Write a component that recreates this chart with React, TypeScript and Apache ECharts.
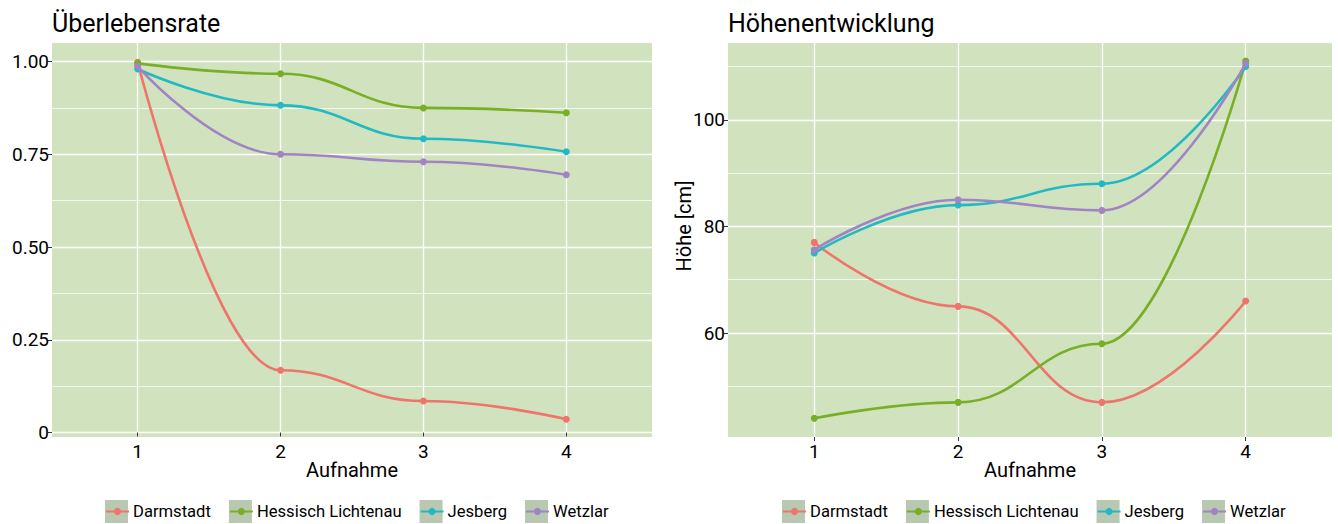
import React, { useEffect, useRef } from "react";
import * as echarts from "echarts";

const aufnahmen = [1, 2, 3, 4];
const sites = ["Darmstadt", "Hessisch Lichtenau", "Jesberg", "Wetzlar"];
const colors = ["#ef756c", "#79ae26", "#23b9c4", "#a084c4"];

const survDarmstadt = [0.998, 0.168, 0.085, 0.036];
const survHessisch = [0.995, 0.967, 0.875, 0.862];
const survJesberg = [0.98, 0.882, 0.792, 0.757];
const survWetzlar = [0.987, 0.75, 0.73, 0.695];

const hoeheDarmstadt = [77, 65, 47, 66];
const hoeheHessisch = [44, 47, 58, 111];
const hoeheJesberg = [75, 84, 88, 110];
const hoeheWetzlar = [75.6, 85, 83, 110.6];

const survTicks = [0, 0.25, 0.5, 0.75, 1];
const survMinor = [0.125, 0.375, 0.625, 0.875];
const hoeheTicks = [60, 80, 100];
const hoeheMinor = [50, 70, 90, 110];

const FONT = "Roboto";
const PANEL = "#d0e3be";
const KEYBG = "#b9c8b0";
const LEGEND_FS = 16.6;
const KEY = 23;
const GAP = 18;

function measure(text: string): number {
  const c = document.createElement("canvas").getContext("2d");
  if (!c) return text.length * 8;
  c.font = `${LEGEND_FS}px ${FONT}`;
  return c.measureText(text).width;
}

export default function App() {
  const ref = useRef<HTMLDivElement>(null);
  useEffect(() => {
    if (!ref.current) return;
    const chart = echarts.init(ref.current, undefined, { renderer: "svg" });
    const surv = [survDarmstadt, survHessisch, survJesberg, survWetzlar];
    const hoehe = [hoeheDarmstadt, hoeheHessisch, hoeheJesberg, hoeheWetzlar];
    const mk = (arr: number[]) => aufnahmen.map((a, i) => [a, arr[i]]);

    const series: any[] = [];
    const lineSeries = (s: string, k: number, xi: number, yi: number, arr: number[]) => ({
      type: "line", name: s, xAxisIndex: xi, yAxisIndex: yi, data: mk(arr),
      smooth: 0.45, smoothMonotone: "x", symbol: "circle", symbolSize: 7, color: colors[k],
      lineStyle: { width: 2.6, color: colors[k] }, itemStyle: { color: colors[k] }, z: 3 + k,
    });
    sites.forEach((s, k) => series.push(lineSeries(s, k, 0, 0, surv[k])));
    sites.forEach((s, k) => series.push(lineSeries(s, k, 1, 2, hoehe[k])));

    const xAxisBase = (gi: number) => ({
      type: "value", gridIndex: gi, min: 0.4, max: 4.6,
      axisLine: { show: false },
      axisTick: { show: true, length: 4, lineStyle: { color: "#333", width: 1 }, customValues: aufnahmen },
      axisLabel: { customValues: aufnahmen, color: "#000", fontFamily: FONT, fontSize: 19, margin: 5 },
      splitLine: { show: true, lineStyle: { color: "#ffffff", width: 1.3 } },
      name: "Aufnahme", nameLocation: "middle", nameGap: 23, nameMoveOverlap: false,
      nameTextStyle: { color: "#000", fontFamily: FONT, fontSize: 20 },
    });

    const yMajor = (gi: number, min: number, max: number, ticks: number[], fmt: (v: number) => string, name?: string) => ({
      type: "value", gridIndex: gi, min, max,
      axisLine: { show: false },
      axisTick: { show: true, length: 4, lineStyle: { color: "#333", width: 1 }, customValues: ticks },
      axisLabel: { customValues: ticks, formatter: fmt, color: "#000", fontFamily: FONT, fontSize: 19, margin: 3 },
      splitLine: { show: true, lineStyle: { color: "#ffffff", width: 1.3 } },
      name: name || "", nameLocation: "middle", nameGap: 34, nameMoveOverlap: false,
      nameTextStyle: { color: "#000", fontFamily: FONT, fontSize: 20, padding: [0, 0, 0, 28] },
    });
    const yMinor = (gi: number, min: number, max: number, ticks: number[]) => ({
      type: "value", gridIndex: gi, min, max,
      axisLine: { show: false },
      axisTick: { show: false, customValues: ticks },
      axisLabel: { show: false, customValues: ticks },
      splitLine: { show: true, lineStyle: { color: "#ffffff", width: 0.7 } },
    });

    const widths = sites.map(measure);
    const legends: any[] = [];
    const addLegend = (start: number) => {
      legends.push({
        left: start, top: 500, padding: 0, orient: "horizontal", itemWidth: KEY, itemHeight: KEY, itemGap: GAP,
        selectedMode: false,
        data: sites.map((s) => ({ name: s, icon: "rect", itemStyle: { color: KEYBG, borderWidth: 0 } })),
        textStyle: { color: "#000", fontFamily: FONT, fontSize: LEGEND_FS },
      });
      let x = start;
      sites.forEach((s, i) => {
        legends.push({
          left: x, top: 500 + (KEY - 9) / 2, padding: 0, orient: "horizontal", itemWidth: KEY, itemHeight: 9,
          selectedMode: false, data: [s], formatter: () => "",
          textStyle: { fontFamily: FONT, fontSize: LEGEND_FS },
        });
        x += KEY + 5 + widths[i] + GAP;
      });
    };
    addLegend(105);
    addLegend(782);

    chart.setOption({
      animation: false,
      backgroundColor: "#ffffff",
      textStyle: { fontFamily: FONT },
      title: [
        { text: "Überlebensrate", left: 52, top: 11, padding: 0, textStyle: { fontFamily: FONT, fontSize: 25, fontWeight: "normal", color: "#000" } },
        { text: "Höhenentwicklung", left: 728, top: 11, padding: 0, textStyle: { fontFamily: FONT, fontSize: 25, fontWeight: "normal", color: "#000" } },
      ],
      grid: [
        { left: 52, top: 43, width: 600, height: 394, show: true, backgroundColor: PANEL, borderWidth: 0 },
        { left: 728, top: 43, width: 604, height: 394, show: true, backgroundColor: PANEL, borderWidth: 0 },
      ],
      xAxis: [xAxisBase(0), xAxisBase(1)],
      yAxis: [
        yMajor(0, -0.012, 1.05, survTicks, (v: number) => (v === 0 ? "0" : v.toFixed(2))),
        yMinor(0, -0.012, 1.05, survMinor),
        yMajor(1, 40.5, 114.4, hoeheTicks, (v: number) => String(v), "Höhe [cm]"),
        yMinor(1, 40.5, 114.4, hoeheMinor),
      ],
      legend: legends,
      series,
    });
    return () => chart.dispose();
  }, []);
  return <div ref={ref} style={{ position: "absolute", left: 0, top: 0, width: 1338, height: 524 }} />;
}
